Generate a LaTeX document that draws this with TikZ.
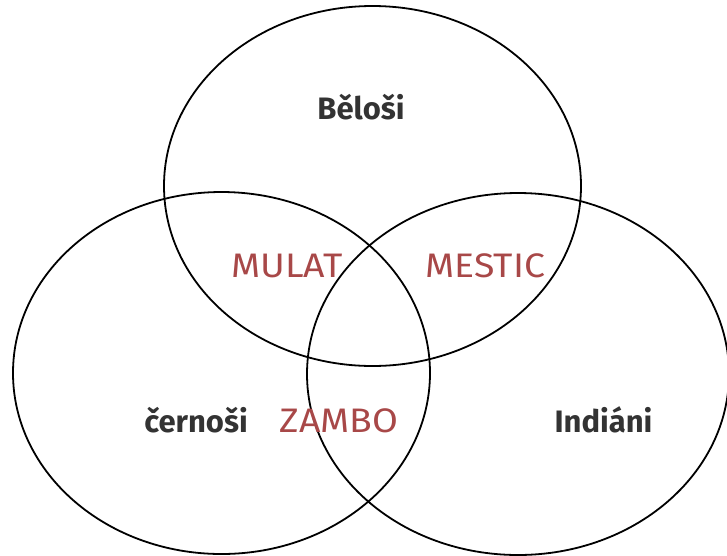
\documentclass[tikz,border=0pt]{standalone}
\usepackage{fontspec}
\setmainfont{Fira Sans}
\newfontfamily\mixfont[FakeStretch=1.1]{Fira Sans}
\definecolor{labred}{HTML}{A84848}
\definecolor{labgray}{HTML}{333333}
\begin{document}
\begin{tikzpicture}[x=1pt,y=-1pt,
  ring/.style={draw=black,line width=1.8pt},
  grouplabel/.style={font=\fontsize{31}{33}\selectfont\bfseries,text=labgray,anchor=base,inner sep=0pt},
  mixlabel/.style={font=\mixfont\fontsize{34}{36}\selectfont,text=labred,anchor=base,inner sep=0pt}]
\useasboundingbox (0,0) rectangle (727,555);
\draw[ring] (372.5,186) ellipse [x radius=208.5, y radius=180];
\draw[ring] (221.5,373) ellipse [x radius=208.5, y radius=181];
\draw[ring] (518,374) ellipse [x radius=211, y radius=181];
\node[grouplabel] (bel) at (361,119) {Běloši};
\node[grouplabel] (cer) at (196,432) {černoši};
\node[grouplabel] (ind) at (603.5,432) {Indiáni};
\node[mixlabel] (mul) at (287,277) {MULAT};
\node[mixlabel] (mes) at (485.5,277) {MESTIC};
\node[mixlabel] (zam) at (339,432) {ZAMBO};
\end{tikzpicture}
\end{document}
